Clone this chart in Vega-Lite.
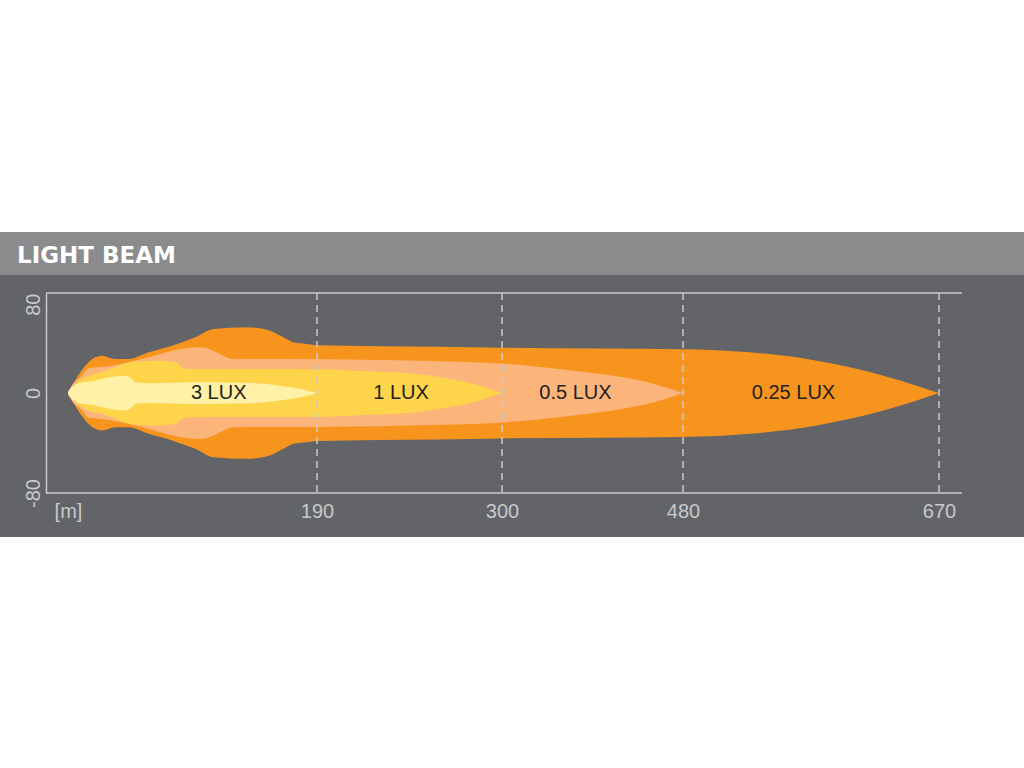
{
  "$schema": "https://vega.github.io/schema/vega-lite/v6.json",
  "background": "#626468",
  "padding": 0,
  "config": {"view": {"stroke": null}},
  "spacing": 0,
  "vconcat": [
    {
      "width": 1024,
      "height": 232,
      "view": {"fill": "#ffffff", "stroke": null},
      "data": {"values": []},
      "mark": "rect"
    },
    {
      "spacing": 17,
      "vconcat": [
        {
          "width": 1024,
          "height": 43,
          "view": {"fill": "#8a8b8d", "stroke": null},
          "title": {"text": "LIGHT BEAM", "anchor": "start", "frame": "group", "orient": "top", "offset": -54, "baseline": "alphabetic", "dx": 17, "font": "DejaVu Sans", "fontSize": 23, "fontWeight": "bold", "color": "#ffffff"},
          "data": {"values": []},
          "mark": "rect"
        },
        {
          "width": 962,
          "height": 200,
          "layer": [
            {
              "data": {"values": [
                {"x": 0, "hi": 0, "lo": 0},
                {"x": 9.2, "hi": 16.3, "lo": -16.3},
                {"x": 20.8, "hi": 28.6, "lo": -28.6},
                {"x": 25.9, "hi": 29.9, "lo": -29.9},
                {"x": 36.1, "hi": 27.3, "lo": -27.3},
                {"x": 46.3, "hi": 27.3, "lo": -27.3},
                {"x": 61.6, "hi": 32.6, "lo": -32.6},
                {"x": 79.4, "hi": 37.9, "lo": -37.9},
                {"x": 97.1, "hi": 44.6, "lo": -44.6},
                {"x": 110.9, "hi": 51.3, "lo": -51.3},
                {"x": 136.4, "hi": 52.6, "lo": -52.6},
                {"x": 154.1, "hi": 49.9, "lo": -49.9},
                {"x": 164.3, "hi": 44.6, "lo": -44.6},
                {"x": 171.9, "hi": 40.6, "lo": -40.6},
                {"x": 182.1, "hi": 39.3, "lo": -39.3},
                {"x": 190, "hi": 38.3, "lo": -38.3},
                {"x": 263.1, "hi": 37.1, "lo": -37.1},
                {"x": 300, "hi": 36.3, "lo": -36.3},
                {"x": 480, "hi": 35.1, "lo": -35.1},
                {"x": 529.7, "hi": 32.6, "lo": -32.6},
                {"x": 579.2, "hi": 25.9, "lo": -25.9},
                {"x": 603.9, "hi": 20.6, "lo": -20.6},
                {"x": 628.7, "hi": 13.9, "lo": -13.9},
                {"x": 653.4, "hi": 5.9, "lo": -5.9},
                {"x": 670, "hi": 0, "lo": 0}
              ]},
              "mark": {"type": "area", "interpolate": "monotone", "color": "#f7941d"},
              "encoding": {
                "x": {
                  "field": "x", "type": "quantitative",
                  "scale": {"domain": [-16.8, 0, 190, 300, 480, 670, 687], "range": [46, 68, 317, 502, 683, 939, 962], "zero": false, "nice": false},
                  "axis": {"values": [0, 190, 300, 480, 670], "labelExpr": "datum.value == 0 ? '[m]' : datum.label", "domain": false, "ticks": false, "tickSize": 0, "grid": false, "labelColor": "#c8c9cb", "labelFont": "Liberation Sans", "labelFontSize": 20, "labelPadding": 8, "labelFlush": false, "labelOverlap": false, "labelBound": false, "minExtent": 44, "maxExtent": 44, "title": null}
                },
                "y": {
                  "field": "hi", "type": "quantitative",
                  "scale": {"domain": [-80, 80], "zero": false, "nice": false},
                  "axis": {"offset": -46, "values": [-80, 0, 80], "labelExpr": "toString(datum.value)", "labelAngle": -90, "labelAlign": {"condition": {"test": "datum.value == 80", "value": "right"}, "value": "center"}, "labelBaseline": "bottom", "labelPadding": 3, "ticks": false, "tickSize": 0, "domain": true, "domainColor": "#c8c9cb", "domainWidth": 1.5, "grid": false, "labelColor": "#c8c9cb", "labelFont": "Liberation Sans", "labelFontSize": 20, "labelFlush": false, "labelOverlap": false, "labelBound": false, "title": null}
                },
                "y2": {"field": "lo"}
              }
            },
            {
              "data": {"values": [
                {"x": 0, "hi": 0, "lo": 0},
                {"x": 1.5, "hi": 3.5, "lo": -3.5},
                {"x": 10.7, "hi": 13.9, "lo": -13.9},
                {"x": 15.8, "hi": 19.8, "lo": -19.8},
                {"x": 23.4, "hi": 20.6, "lo": -20.6},
                {"x": 33.6, "hi": 21.9, "lo": -21.9},
                {"x": 46.3, "hi": 24.6, "lo": -24.6},
                {"x": 61.6, "hi": 28.6, "lo": -28.6},
                {"x": 79.4, "hi": 33.9, "lo": -33.9},
                {"x": 100.7, "hi": 36.7, "lo": -36.7},
                {"x": 110.9, "hi": 33.9, "lo": -33.9},
                {"x": 118.5, "hi": 29.9, "lo": -29.9},
                {"x": 126.1, "hi": 27.3, "lo": -27.3},
                {"x": 190, "hi": 27.1, "lo": -27.1},
                {"x": 263.1, "hi": 25.4, "lo": -25.4},
                {"x": 304.7, "hi": 23.3, "lo": -23.3},
                {"x": 370.9, "hi": 17.9, "lo": -17.9},
                {"x": 420.6, "hi": 12.6, "lo": -12.6},
                {"x": 453.8, "hi": 6.7, "lo": -6.7},
                {"x": 480, "hi": 0, "lo": 0}
              ]},
              "mark": {"type": "area", "interpolate": "monotone", "color": "#fbb57b"},
              "encoding": {
                "x": {"field": "x", "type": "quantitative", "scale": {"domain": [-16.8, 0, 190, 300, 480, 670, 687], "range": [46, 68, 317, 502, 683, 939, 962], "zero": false, "nice": false}},
                "y": {"field": "hi", "type": "quantitative", "scale": {"domain": [-80, 80], "zero": false, "nice": false}},
                "y2": {"field": "lo"}
              }
            },
            {
              "data": {"values": [
                {"x": 0, "hi": 0, "lo": 0},
                {"x": 5.6, "hi": 7.3, "lo": -7.3},
                {"x": 15.8, "hi": 13.9, "lo": -13.9},
                {"x": 25.9, "hi": 16.6, "lo": -16.6},
                {"x": 36.1, "hi": 20.6, "lo": -20.6},
                {"x": 48.8, "hi": 25.1, "lo": -25.1},
                {"x": 71.7, "hi": 25.9, "lo": -25.9},
                {"x": 81.9, "hi": 24.6, "lo": -24.6},
                {"x": 87, "hi": 20.6, "lo": -20.6},
                {"x": 92.1, "hi": 19.3, "lo": -19.3},
                {"x": 190, "hi": 19.1, "lo": -19.1},
                {"x": 219.6, "hi": 17.4, "lo": -17.4},
                {"x": 249.3, "hi": 15.3, "lo": -15.3},
                {"x": 263.1, "hi": 12.6, "lo": -12.6},
                {"x": 282.9, "hi": 7.3, "lo": -7.3},
                {"x": 300, "hi": 0, "lo": 0}
              ]},
              "mark": {"type": "area", "interpolate": "monotone", "color": "#fed44a"},
              "encoding": {
                "x": {"field": "x", "type": "quantitative", "scale": {"domain": [-16.8, 0, 190, 300, 480, 670, 687], "range": [46, 68, 317, 502, 683, 939, 962], "zero": false, "nice": false}},
                "y": {"field": "hi", "type": "quantitative", "scale": {"domain": [-80, 80], "zero": false, "nice": false}},
                "y2": {"field": "lo"}
              }
            },
            {
              "data": {"values": [
                {"x": 0, "hi": 0, "lo": 0},
                {"x": 0.5, "hi": 1.9, "lo": -1.9},
                {"x": 10.7, "hi": 8.6, "lo": -8.6},
                {"x": 20.8, "hi": 9.9, "lo": -9.9},
                {"x": 31.1, "hi": 12.6, "lo": -12.6},
                {"x": 43.7, "hi": 13.9, "lo": -13.9},
                {"x": 48.8, "hi": 11.3, "lo": -11.3},
                {"x": 51.4, "hi": 8.6, "lo": -8.6},
                {"x": 62.6, "hi": 7.9, "lo": -7.9},
                {"x": 93.1, "hi": 8.7, "lo": -8.7},
                {"x": 136.4, "hi": 8.3, "lo": -8.3},
                {"x": 161.8, "hi": 5.9, "lo": -5.9},
                {"x": 182.1, "hi": 2.3, "lo": -2.3},
                {"x": 190, "hi": 0, "lo": 0}
              ]},
              "mark": {"type": "area", "interpolate": "monotone", "color": "#fff1a6"},
              "encoding": {
                "x": {"field": "x", "type": "quantitative", "scale": {"domain": [-16.8, 0, 190, 300, 480, 670, 687], "range": [46, 68, 317, 502, 683, 939, 962], "zero": false, "nice": false}},
                "y": {"field": "hi", "type": "quantitative", "scale": {"domain": [-80, 80], "zero": false, "nice": false}},
                "y2": {"field": "lo"}
              }
            },
            {
              "data": {"values": [{"x": 190}, {"x": 300}, {"x": 480}, {"x": 670}]},
              "mark": {"type": "rule", "color": "#c8c9cb", "strokeWidth": 1.5, "strokeDash": [7, 5]},
              "encoding": {
                "x": {"field": "x", "type": "quantitative", "scale": {"domain": [-16.8, 0, 190, 300, 480, 670, 687], "range": [46, 68, 317, 502, 683, 939, 962], "zero": false, "nice": false}}
              }
            },
            {
              "data": {"values": [{"x": -16.8, "x2": 687, "hi": 80}, {"x": -16.8, "x2": 687, "hi": -80}]},
              "mark": {"type": "rule", "color": "#c8c9cb", "strokeWidth": 1.5},
              "encoding": {
                "x": {"field": "x", "type": "quantitative", "scale": {"domain": [-16.8, 0, 190, 300, 480, 670, 687], "range": [46, 68, 317, 502, 683, 939, 962], "zero": false, "nice": false}},
                "x2": {"field": "x2"},
                "y": {"field": "hi", "type": "quantitative", "scale": {"domain": [-80, 80], "zero": false, "nice": false}}
              }
            },
            {
              "data": {"values": [
                {"x": 115, "hi": 0, "label": "3 LUX"},
                {"x": 240, "hi": 0, "label": "1 LUX"},
                {"x": 373, "hi": 0, "label": "0.5 LUX"},
                {"x": 562, "hi": 0, "label": "0.25 LUX"}
              ]},
              "mark": {"type": "text", "font": "Liberation Sans", "fontSize": 20, "color": "#231f20", "align": "center", "baseline": "middle"},
              "encoding": {
                "x": {"field": "x", "type": "quantitative", "scale": {"domain": [-16.8, 0, 190, 300, 480, 670, 687], "range": [46, 68, 317, 502, 683, 939, 962], "zero": false, "nice": false}},
                "y": {"field": "hi", "type": "quantitative", "scale": {"domain": [-80, 80], "zero": false, "nice": false}},
                "text": {"field": "label"}
              }
            }
          ]
        }
      ]
    }
  ]
}
